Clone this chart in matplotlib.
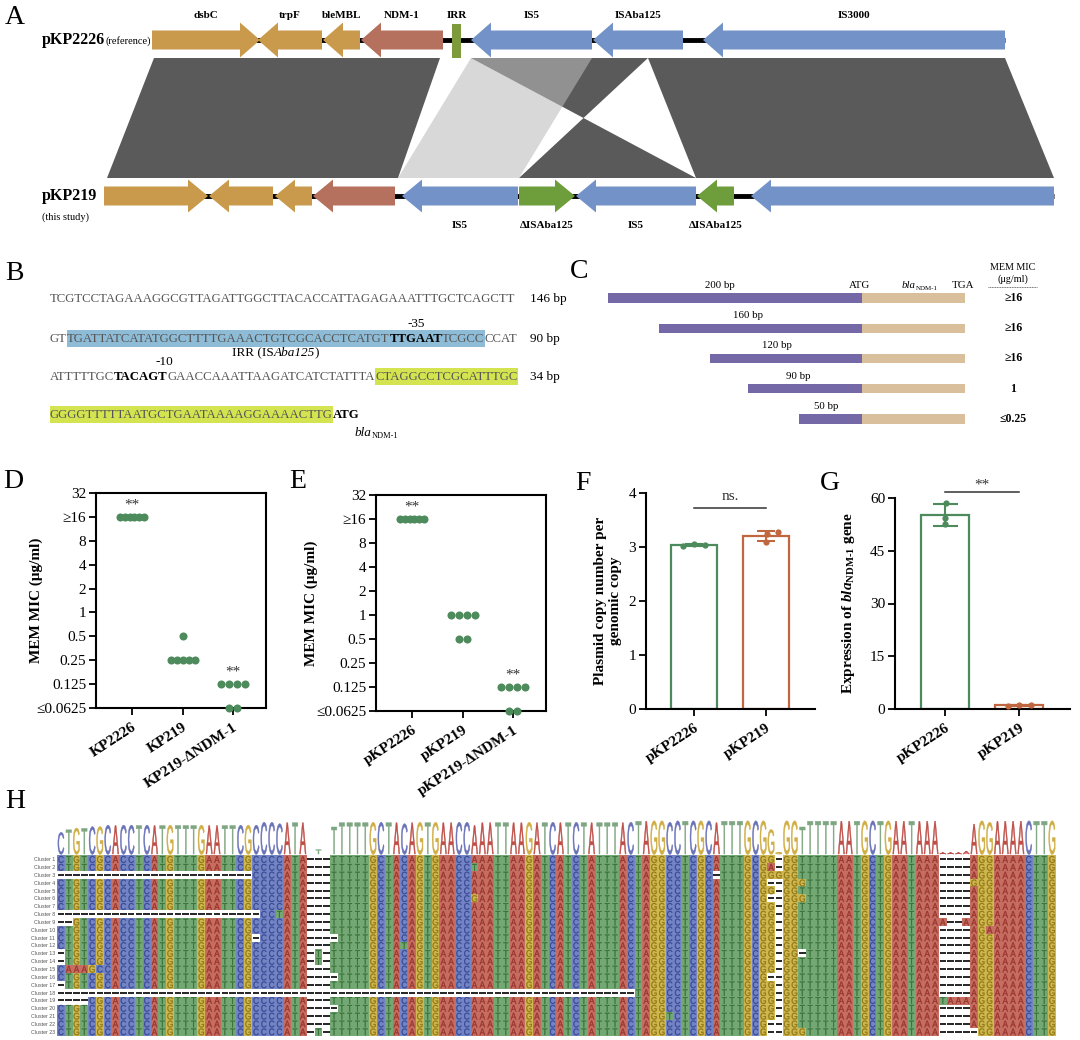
import numpy as np
import matplotlib
matplotlib.use("Agg")
import matplotlib.pyplot as plt
from matplotlib.patches import Polygon, Rectangle
from matplotlib.patheffects import AbstractPathEffect
from matplotlib.transforms import Affine2D
from matplotlib.colors import to_rgb

plt.rcParams['font.family'] = ['Liberation Serif', 'DejaVu Serif']
plt.rcParams['mathtext.fontset'] = 'custom'
plt.rcParams['mathtext.rm'] = 'Liberation Serif:bold'
plt.rcParams['mathtext.it'] = 'Liberation Serif:italic:bold'
plt.rcParams['mathtext.bf'] = 'Liberation Serif:bold'

# ============================ DATA ============================
# ---- Panel A: gene maps (track coordinates) ----
A_top_names = ["dsbC", "trpF", "bleMBL", "NDM-1", "IS5", "ISAba125", "IS3000"]
A_top_start = [152, 258, 323, 361, 471, 593, 703]
A_top_end = [260, 322, 360, 443, 592, 683, 1005]
A_top_dir = [1, -1, -1, -1, -1, -1, -1]
A_top_kind = ["tan", "tan", "tan", "ndm", "is", "is", "is"]
A_irr = (452, 461)
A_bot_names = ["", "", "", "", "IS5", "ΔISAba125", "IS5", "ΔISAba125", ""]
A_bot_start = [104, 209, 275, 313, 402, 519, 576, 697, 751]
A_bot_end = [208, 273, 312, 395, 518, 575, 696, 734, 1054]
A_bot_dir = [1, -1, -1, -1, -1, 1, -1, -1, -1]
A_bot_kind = ["tan", "tan", "tan", "ndm", "is", "dis", "is", "dis", "is"]
# homology links: top start, top end, bottom start, bottom end, inverted, shade
A_links = [(154, 440, 107, 398, False, "dark"),
           (471, 648, 519, 696, True, "dark"),
           (648, 1005, 696, 1054, False, "dark"),
           (471, 592, 398, 519, False, "light")]

# ---- Panel B: promoter sequence ----
B_lines = [
    [("TCGTCCTAGAAAGGCGTTAGATTGGCTTACACCATTAGAGAAATTTGCTCAGCTT", None, False)],
    [("GT", None, False), ("TGATTATCATATGGCTTTTGAAACTGTCGCACCTCATGT", "blue", False),
     ("TTGAAT", "blue", True), ("TCGCC", "blue", False), ("CCAT", None, False)],
    [("ATTTTTGC", None, False), ("TACAGT", None, True),
     ("GAACCAAATTAAGATCATCTATTTA", None, False), ("CTAGGCCTCGCATTTGC", "green", False)],
    [("GGGGTTTTTAATGCTGAATAAAAGGAAAACTTG", "green", False), ("ATG", None, True)],
]
B_sizes = ["146 bp", "90 bp", "34 bp", ""]

# ---- Panel C: truncated upstream constructs ----
C_upstream_bp = [200, 160, 120, 90, 50]
C_gene_len = 81
C_mic = ["≥16", "≥16", "≥16", "1", "≤0.25"]

# ---- Panels D/E: MEM MIC ----
MIC_ticks = [0.0625, 0.125, 0.25, 0.5, 1, 2, 4, 8, 16, 32]
MIC_ticklabels = ["≤0.0625", "0.125", "0.25", "0.5", "1", "2", "4", "8", "≥16", "32"]
D_groups = ["KP2226", "KP219", "KP219-ΔNDM-1"]
D_mic = [[16, 16, 16, 16, 16, 16],
         [0.5, 0.25, 0.25, 0.25, 0.25, 0.25],
         [0.125, 0.125, 0.125, 0.125, 0.0625, 0.0625]]
D_sig = ["**", "", "**"]
E_groups = ["pKP2226", "pKP219", "pKP219-ΔNDM-1"]
E_mic = [[16, 16, 16, 16, 16, 16],
         [1, 1, 1, 1, 0.5, 0.5],
         [0.125, 0.125, 0.125, 0.125, 0.0625, 0.0625]]
E_sig = ["**", "", "**"]

# ---- Panels F/G ----
FG_groups = ["pKP2226", "pKP219"]
F_vals = [[3.01, 3.05, 3.03], [3.28, 3.24, 3.09]]
G_vals = [[58.6, 54.4, 52.5], [0.9, 1.2, 1.0]]

# ---- Panel H: alignment of 23 clusters ----
H_blocks = ["CTGTCGCACCTCATGTTTGAATTCGCCCCATA", "---",
            "TTTTTGCTACAGTGAACCAAATTAAGATCATCTATTTACTAGGCCTCGCATTTGCGG", "-",
            "GGTTTTTAATGCTGAATAAA", "----", "AGGAAAACTTG"]
H_clusters = ["Cluster %d" % k for k in range(1, 24)]
H_edits = {
    2: [(53, "T"), (91, "A")],
    3: [(0, "-" * 25), (84, "-"), (92, "G")],
    4: [(91, "--"), (95, "G"), (117, "G")],
    6: [(53, "G"), (91, "--"), (95, "G")],
    8: [(0, "-" * 26), (28, "T")],
    9: [(0, "--"), (113, "A"), (116, "A")],
    10: [(119, "A")],
    11: [(25, "-"), (35, "-")],
    12: [(44, "T")],
    13: [(0, "-"), (33, "T"), (95, "-")],
    14: [(0, "-"), (33, "T")],
    15: [(1, "AAAGC")],
    16: [(35, "-"), (91, "-")],
    17: [(0, "-")],
    18: [(0, "-" * 74)],
    19: [(0, "----"), (113, "TAAA")],
    20: [(35, "-")],
    21: [(78, "T")],
    22: [(91, "-")],
    23: [(33, "T"), (91, "--"), (95, "G"), (117, "-")],
}

# ============================ STYLE ============================
W, H = 1080, 1040
KIND_COL = {"tan": "#C99A4C", "ndm": "#B5705E", "is": "#7393C8", "dis": "#6E9E3C"}
DOT_GREEN = "#4d8a5c"
ORANGE = "#c0673f"
PURPLE = "#7469A6"
TAN_C = "#D9BF9B"
HL = {"blue": "#8EBBD6", "green": "#D3E450"}
NUC_BG = {"A": "#C66D61", "C": "#7384C4", "G": "#CFB64F", "T": "#73A773", "-": "#FFFFFF"}
NUC_FG = {"A": "#97322A", "C": "#364593", "G": "#8C7512", "T": "#356E35"}
LOGO_COL = {"A": "#BF4E47", "C": "#6A72B8", "G": "#D0AE45", "T": "#7FA682"}

fig = plt.figure(figsize=(W / 100, H / 100), dpi=100)
ov = fig.add_axes([0, 0, 1, 1])
ov.set_xlim(0, W)
ov.set_ylim(H, 0)
ov.axis("off")
renderer = fig.canvas.get_renderer()


def px_axes(x0, y0, x1, y1):
    return fig.add_axes([x0 / W, 1 - y1 / H, (x1 - x0) / W, (y1 - y0) / H])


def seg_text(x, y, segs, center=False, **common):
    """segs: list of (text, dict). y is baseline (ov coords). returns spans."""
    arts, spans = [], []
    for s, kw in segs:
        k = dict(va="baseline", ha="left")
        k.update(common)
        kw = dict(kw)
        dy = kw.pop("dy", 0)
        k.update(kw)
        t = ov.text(x, y + dy, s, **k)
        bb = t.get_window_extent(renderer)
        arts.append(t)
        spans.append((x, x + bb.width))
        x = x + bb.width
    if center:
        total = spans[-1][1] - spans[0][0]
        for t in arts:
            t.set_x(t.get_position()[0] - total / 2)
        spans = [(a - total / 2, b - total / 2) for a, b in spans]
    return spans


class Stretch(AbstractPathEffect):
    """Stretch glyphs vertically about the baseline, with a thin outline, no pixel snapping."""
    def __init__(self, sy=1.0, stroke=0.0):
        super().__init__()
        self._sy = sy
        self._stroke = stroke

    def draw_path(self, renderer, gc, tpath, affine, rgbFace=None):
        tr = Affine2D().scale(1.0, self._sy) + affine
        gc0 = renderer.new_gc()
        gc0.copy_properties(gc)
        gc0.set_snap(False)
        if self._stroke > 0 and rgbFace is not None:
            gc0.set_linewidth(self._stroke)
            gc0.set_foreground(rgbFace)
        renderer.draw_path(gc0, tpath, tr, rgbFace)
        gc0.restore()


# ============================ PANEL LETTERS ============================
for lab, x, y in [("A", 5, 17), ("B", 5, 274), ("C", 570, 272), ("D", 3, 481),
                  ("E", 289, 481), ("F", 575, 484), ("G", 820, 483), ("H", 5, 801)]:
    ov.text(x, y, lab, fontsize=20, va="center", ha="left")

# ============================ PANEL A ============================
def gene_poly(s, e, d, yc, b, hh, color, hl=20):
    h = min(hl, 0.6 * (e - s))
    if d > 0:
        pts = [(s, yc - b), (e - h, yc - b), (e - h, yc - hh), (e, yc), (e - h, yc + hh), (e - h, yc + b), (s, yc + b)]
    else:
        pts = [(e, yc - b), (s + h, yc - b), (s + h, yc - hh), (s, yc), (s + h, yc + hh), (s + h, yc + b), (e, yc + b)]
    return Polygon(pts, closed=True, fc=color, ec="none", zorder=3)


top_y, bot_y = 40, 196
link_top, link_bot = 58, 178
for ts, te, bs, be, inv, shade in A_links:
    if inv:
        pts = [(ts, link_top), (te, link_top), (bs, link_bot), (be, link_bot)]
    else:
        pts = [(ts, link_top), (te, link_top), (be, link_bot), (bs, link_bot)]
    if shade == "dark":
        ov.add_patch(Polygon(pts, closed=True, fc="#5A5A5A", ec="none", zorder=1))
    else:
        ov.add_patch(Polygon(pts, closed=True, fc=(0.733, 0.733, 0.733), alpha=0.573, ec="none", zorder=2))

ov.plot([A_top_start[0], A_top_end[-1]], [top_y, top_y], color="black", lw=3.5, zorder=2, solid_capstyle="butt")
ov.plot([A_bot_start[0], A_bot_end[-1]], [bot_y, bot_y], color="black", lw=3.5, zorder=2, solid_capstyle="butt")
for n, s, e, d, k in zip(A_top_names, A_top_start, A_top_end, A_top_dir, A_top_kind):
    ov.add_patch(gene_poly(s, e, d, top_y, 9.5, 17.5, KIND_COL[k]))
    ov.text((s + e) / 2, 16, n, ha="center", va="center", fontsize=8, fontweight="bold")
ov.add_patch(Rectangle((A_irr[0], 24), A_irr[1] - A_irr[0], 34, fc="#7E9B3C", ec="none", zorder=4))
ov.text((A_irr[0] + A_irr[1]) / 2, 16, "IRR", ha="center", va="center", fontsize=8, fontweight="bold")
for n, s, e, d, k in zip(A_bot_names, A_bot_start, A_bot_end, A_bot_dir, A_bot_kind):
    ov.add_patch(gene_poly(s, e, d, bot_y, 9.5, 16.5, KIND_COL[k]))
    if n:
        ov.text((s + e) / 2, 225, n, ha="center", va="center", fontsize=8, fontweight="bold")
seg_text(42, 44, [("pKP2226", dict(fontsize=11.5, fontweight="bold")), ("(reference)", dict(fontsize=7.5))])
seg_text(42, 200, [("pKP219", dict(fontsize=11.5, fontweight="bold"))])
ov.text(42, 217, "(this study)", fontsize=7.5, va="center", ha="left")

# ============================ PANEL B ============================
tmp = ov.text(0, 0, B_lines[0][0][0], fontsize=10)
wB = tmp.get_window_extent(renderer).width
tmp.remove()
fsB = 10 * 464 / wB
B_y = [298, 338, 376, 414]
all_spans = []
for i, line in enumerate(B_lines):
    yc = B_y[i]
    segs = []
    for txt, hl, bold in line:
        segs.append((txt, dict(fontweight="bold" if bold else "normal",
                               color="black" if bold else "#555555", zorder=3)))
    spans = seg_text(50, yc + 4.2, segs, fontsize=fsB)
    all_spans.append(spans)
    for (txt, hl, bold), (x0, x1) in zip(line, spans):
        if hl:
            ov.add_patch(Rectangle((x0, yc - 8.5), x1 - x0, 17, fc=HL[hl], ec="none", zorder=1))
    if B_sizes[i]:
        ov.text(530, yc + 4.2, B_sizes[i], fontsize=9.5, va="baseline", ha="left", color="black")
x0, x1 = all_spans[1][2]
ov.text((x0 + x1) / 2, 324, "-35", ha="center", va="center", fontsize=9.5)
hl0, hl1 = all_spans[1][1][0], all_spans[1][3][1]
seg_text((hl0 + hl1) / 2, 356, [("IRR (IS", dict()), ("Aba125", dict(fontstyle="italic")), (")", dict())],
         center=True, fontsize=9.5)
x0, x1 = all_spans[2][1]
ov.text(x1 - 4, 362, "-10", ha="center", va="center", fontsize=9.5)
seg_text(all_spans[3][1][1] - 5, 436, [("bla", dict(fontstyle="italic", fontsize=9.5)),
                                       ("NDM-1", dict(fontsize=6, dy=2))])

# ============================ PANEL C ============================
axC = px_axes(560, 255, 1080, 440)
axC.axis("off")
axC.set_xlim(-(862 - 560) / 1.27, (1080 - 862) / 1.27)
axC.set_ylim(4.694, -1.421)
yC = np.arange(len(C_upstream_bp))
axC.barh(yC, C_upstream_bp, left=-np.array(C_upstream_bp), height=0.3, color=PURPLE)
axC.barh(yC, C_gene_len, left=0, height=0.3, color=TAN_C)
for i, bp in enumerate(C_upstream_bp):
    axC.text(-bp * 0.56, i - 0.42, "%d bp" % bp, ha="center", va="center", fontsize=7.8)
    axC.text(119, i, C_mic[i], ha="center", va="center", fontsize=8.5, fontweight="bold")
axC.text(-2, -0.42, "ATG", ha="center", va="center", fontsize=7.8)
axC.text(C_gene_len - 1.5, -0.42, "TGA", ha="center", va="center", fontsize=7.8)
bx, by = axC.transData.transform((31, -0.42))
seg_text(bx, H - by + 3, [("bla", dict(fontstyle="italic", fontsize=7.8)), ("NDM-1", dict(fontsize=5, dy=1.5))])
axC.text(119, -1.02, "MEM MIC", ha="center", va="center", fontsize=7.3)
axC.text(119, -0.62, "(μg/ml)", ha="center", va="center", fontsize=7.3)
axC.plot([99, 138], [-0.36, -0.36], ls=(0, (1.2, 0.8)), lw=0.6, color="#555555")


# ============================ PANELS D / E ============================
def mic_panel(box, groups, vals, sig, ylab_x):
    ax = px_axes(*box)
    ax.set_yscale("log", base=2)
    ax.set_ylim(0.0625, 32)
    xl = (-0.71, 2.65)
    ax.set_xlim(*xl)
    ax.set_yticks(MIC_ticks)
    ax.set_yticklabels(MIC_ticklabels)
    ax.minorticks_off()
    ax.set_xticks(range(len(groups)))
    ax.set_xticklabels(groups, rotation=33, ha="right", va="top", rotation_mode="anchor",
                       fontweight="bold", fontsize=11)
    for sp in ax.spines.values():
        sp.set_linewidth(1.5)
    ax.tick_params(axis="both", direction="out", length=5, width=1.3, labelsize=11, pad=2)
    ax.tick_params(axis="x", pad=4)
    ppu = (box[2] - box[0]) / (xl[1] - xl[0])
    for i, v in enumerate(vals):
        for u in sorted(set(v), reverse=True):
            n = v.count(u)
            sp = min(8.0, 24.0 / (n - 1)) if n > 1 else 0.0
            offs = (np.arange(n) - (n - 1) / 2) * sp / ppu
            ax.plot(i + offs, [u] * n, "o", ms=5.8, color=DOT_GREEN, mec="none", clip_on=False, zorder=5)
        if sig[i]:
            ax.text(i, max(v) * 2 ** 0.5, sig[i], ha="center", va="center", fontsize=11, color="#333333")
    ax.set_ylabel("MEM MIC (μg/ml)", fontweight="bold", fontsize=11)
    ax.yaxis.set_label_coords(ylab_x, 0.5)
    return ax


mic_panel((96, 493, 266, 708), D_groups, D_mic, D_sig, -0.312)
mic_panel((376, 495, 546, 711), E_groups, E_mic, E_sig, -0.341)


# ============================ PANELS F / G ============================
def bar_panel(box, vals, ylim, yticks, capsize, offs, ylabel, ylab_x, sig, sig_y, sig_ty):
    ax = px_axes(*box)
    cols = [DOT_GREEN, ORANGE]
    for i, (v, c) in enumerate(zip(vals, cols)):
        m = np.mean(v)
        sd = np.std(v, ddof=1)
        ax.bar(i, m, width=0.64, facecolor="white", edgecolor=c, lw=1.6, zorder=2)
        ax.errorbar(i, m, yerr=sd, color=c, capsize=capsize, elinewidth=1.5, capthick=1.5, zorder=3)
        ax.plot(i + np.array(offs[i]), v, "o", ms=4.5, color=c, mec="none", zorder=4)
    ax.set_xlim(-0.667, 1.68)
    ax.set_ylim(*ylim)
    ax.set_yticks(yticks)
    ax.set_xticks([0, 1])
    ax.set_xticklabels(FG_groups, rotation=33, ha="right", va="top", rotation_mode="anchor",
                       fontweight="bold", fontsize=11)
    for k in ["top", "right"]:
        ax.spines[k].set_visible(False)
    for k in ["left", "bottom"]:
        ax.spines[k].set_linewidth(1.5)
    ax.tick_params(axis="both", direction="out", length=5, width=1.3, labelsize=11, pad=2)
    ax.tick_params(axis="x", pad=4)
    ax.plot([0, 1], [sig_y, sig_y], color="#333333", lw=1.1, clip_on=False)
    ax.text(0.5, sig_ty, sig, ha="center", va="center", fontsize=11, color="#333333", clip_on=False)
    ax.set_ylabel(ylabel, fontweight="bold", fontsize=11, linespacing=1.25)
    ax.yaxis.set_label_coords(ylab_x, 0.5)
    return ax


bar_panel((646, 493, 815, 709), F_vals, (0, 4), [0, 1, 2, 3, 4], 6.8,
          [[-0.15, 0.0, 0.15], [0.16, 0.01, 0.0]],
          "Plasmid copy number per\ngenomic copy", -0.142, "ns.", 3.73, 3.93)
bar_panel((895, 498, 1070, 709), G_vals, (0, 60), [0, 15, 30, 45, 60], 9,
          [[0.02, 0.0, 0.0], [-0.15, 0.0, 0.16]],
          r"Expression of $\mathit{bla}_{\text{NDM-1}}$ gene", -0.217, "**", 61.7, 63.8)

# ============================ PANEL H ============================
consensus = "".join(H_blocks)
ncol = len(consensus)
seqs = []
for k in range(1, len(H_clusters) + 1):
    s = list(consensus)
    for start, rep in H_edits.get(k, []):
        s[start:start + len(rep)] = list(rep)
    seqs.append(s)
nrow = len(seqs)

axH = px_axes(57, 855.4, 1056, 1035.6)
rgb = np.array([[to_rgb(NUC_BG[ch]) for ch in row] for row in seqs])
axH.imshow(rgb, aspect="auto", interpolation="nearest", extent=(-0.5, ncol - 0.5, nrow - 0.5, -0.5))
axH.set_xlim(-0.5, ncol - 0.5)
axH.set_ylim(nrow - 0.5, -0.5)
for sp in axH.spines.values():
    sp.set_visible(False)
axH.set_xticks([])
axH.set_yticks(np.arange(nrow))
axH.set_yticklabels(H_clusters, fontsize=3.8, color="#555555", family="Liberation Sans")
axH.tick_params(axis="y", length=0, pad=1.5)
gap_r, gap_c = [], []
for r, row in enumerate(seqs):
    for c, ch in enumerate(row):
        if ch == "-":
            gap_r.append(r)
            gap_c.append(c)
        else:
            axH.text(c, r + 0.44, ch, ha="center", va="baseline", fontsize=6, color=NUC_FG[ch],
                     family="Liberation Sans", path_effects=[Stretch(1.15, 0.2)])
gap_c = np.array(gap_c)
axH.hlines(gap_r, gap_c - 0.42, gap_c + 0.42, color="black", lw=1.2)

# sequence logo from column composition
axL = px_axes(57, 817, 1056, 854)
axL.set_xlim(-0.5, ncol - 0.5)
axL.set_ylim(0, 1)
axL.axis("off")
cap_px = 0.716 * 7 * 100 / 72
for c in range(ncol):
    col = [row[c] for row in seqs if row[c] != "-"]
    if not col:
        continue
    best = max(set(col), key=col.count)
    frac = col.count(best) / nrow
    axL.text(c, 0, best, ha="center", va="baseline", fontsize=7, color=LOGO_COL[best],
             family="Liberation Sans", path_effects=[Stretch(34 * frac / cap_px, 0.35)])

fig.savefig("out.png", dpi=100)
